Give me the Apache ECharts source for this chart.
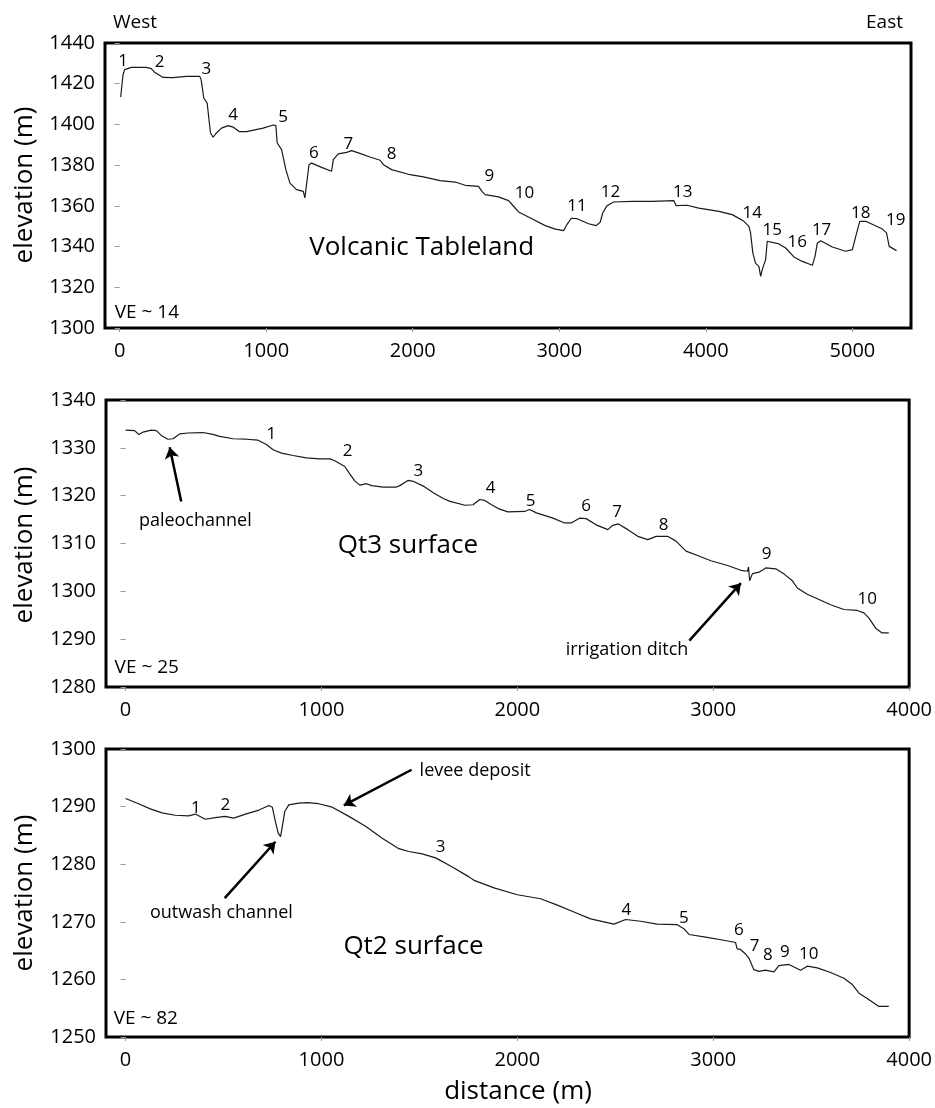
<!DOCTYPE html>
<html>
<head>
<meta charset="utf-8">
<script src="https://cdn.jsdelivr.net/npm/echarts@6/dist/echarts.min.js"></script>
<style>
  html, body { margin: 0; padding: 0; background: #fff; }
  #chart { width: 935px; height: 1108px; }
</style>
</head>
<body>
<div id="chart"></div>
<script>
// distance (m), elevation (m)
const volcanicProfile = [
  [7, 1413.5], [23, 1424.4], [34, 1426.9], [80, 1428], [182, 1428], [216, 1427.4], [239, 1425.6],
  [296, 1423.1], [364, 1423], [456, 1423.6], [547, 1423.6], [556, 1422], [574, 1413], [597, 1410.5],
  [620, 1395.8], [638, 1393.7], [660, 1395.8], [695, 1398.2], [740, 1399.4], [774, 1398.7],
  [815, 1396.5], [866, 1396.5], [979, 1398.2], [1048, 1399.7], [1066, 1399.4], [1075, 1390.9],
  [1105, 1387.6], [1134, 1377.8], [1162, 1371.2], [1207, 1368], [1253, 1367.1], [1264, 1363.9],
  [1271, 1363.5], [1292, 1380.2], [1310, 1381], [1378, 1378.9], [1446, 1377], [1458, 1382.7],
  [1492, 1385.5], [1549, 1386.3], [1583, 1387.1], [1629, 1386], [1708, 1384], [1777, 1382.4],
  [1800, 1380.2], [1856, 1377.8], [1982, 1375.3], [2073, 1374.2], [2187, 1372.4], [2289, 1371.7],
  [2358, 1370.1], [2449, 1369.6], [2472, 1367.1], [2494, 1365.5], [2585, 1364.4], [2654, 1362.6],
  [2688, 1359.8], [2722, 1357], [2813, 1353.7], [2904, 1350.3], [2973, 1348.6], [3030, 1347.8],
  [3052, 1350.8], [3082, 1353.9], [3121, 1353.7], [3200, 1351.2], [3252, 1350.3], [3280, 1352.1],
  [3296, 1356.5], [3326, 1360.1], [3371, 1361.9], [3497, 1362.2], [3633, 1362.2], [3781, 1362.6],
  [3797, 1360.1], [3872, 1360.3], [3952, 1358.9], [4089, 1357.3], [4180, 1355.7], [4260, 1352.4],
  [4294, 1349.9], [4305, 1346.7], [4321, 1336.8], [4339, 1331.9], [4362, 1330.3], [4374, 1325.4],
  [4385, 1328.7], [4408, 1333.6], [4419, 1342.6], [4431, 1343.4], [4499, 1341.3], [4545, 1339.3],
  [4601, 1334.9], [4658, 1332.7], [4727, 1330.8], [4745, 1335.2], [4761, 1341.8], [4784, 1342.9],
  [4863, 1339.8], [4954, 1337.7], [5000, 1338.5], [5023, 1345], [5050, 1352.4], [5091, 1352.4],
  [5205, 1348.6], [5233, 1346.7], [5251, 1340.1], [5301, 1338]
]
const qt3Profile = [
  [0, 1333.7], [46, 1333.6], [68, 1332.8], [89, 1333.3], [131, 1333.7], [157, 1333.6], [182, 1332.6],
  [216, 1331.8], [242, 1331.9], [276, 1332.9], [319, 1333.1], [395, 1333.2], [446, 1332.8],
  [480, 1332.4], [549, 1331.9], [617, 1331.8], [676, 1331.6], [719, 1330.7], [753, 1329.6],
  [796, 1328.9], [855, 1328.4], [923, 1327.9], [991, 1327.7], [1043, 1327.7], [1068, 1327.3],
  [1119, 1326.1], [1145, 1324.5], [1170, 1323.1], [1196, 1322.2], [1230, 1322.5], [1256, 1322.1],
  [1315, 1321.8], [1383, 1321.8], [1400, 1322.1], [1443, 1323.2], [1468, 1323], [1520, 1322],
  [1571, 1320.6], [1622, 1319.4], [1656, 1318.8], [1733, 1318], [1774, 1318.1], [1808, 1319.2],
  [1834, 1319], [1868, 1318.1], [1902, 1317.3], [1952, 1316.6], [2037, 1316.7], [2063, 1317.1],
  [2097, 1316.4], [2182, 1315.3], [2241, 1314.3], [2275, 1314.3], [2317, 1315.3], [2351, 1315.2],
  [2402, 1313.9], [2462, 1312.9], [2487, 1313.8], [2516, 1314.1], [2564, 1312.9], [2615, 1311.5],
  [2666, 1310.8], [2708, 1311.5], [2767, 1311.5], [2810, 1310.5], [2861, 1308.4], [2920, 1307.5],
  [2988, 1306.4], [3073, 1305.4], [3141, 1304.4], [3175, 1304.2], [3180, 1305.1], [3186, 1302.2],
  [3200, 1303.7], [3234, 1304], [3268, 1304.9], [3319, 1304.7], [3362, 1303.6], [3404, 1302.2],
  [3429, 1300.7], [3480, 1299.4], [3540, 1298.3], [3599, 1297.2], [3667, 1296.2], [3735, 1296],
  [3769, 1295.5], [3795, 1294.4], [3829, 1292.3], [3862, 1291.3], [3896, 1291.3]
]
const qt2Profile = [
  [0, 1291.4], [66, 1290.5], [126, 1289.6], [186, 1288.9], [254, 1288.5], [322, 1288.4],
  [356, 1288.7], [373, 1288.4], [407, 1287.8], [458, 1288.1], [508, 1288.3], [552, 1288],
  [612, 1288.7], [681, 1289.4], [732, 1290.2], [749, 1289.9], [765, 1287.4], [779, 1285.4],
  [791, 1284.8], [799, 1286.3], [813, 1289.2], [833, 1290.3], [884, 1290.6], [927, 1290.7],
  [986, 1290.5], [1055, 1289.9], [1140, 1288.3], [1225, 1286.6], [1310, 1284.5], [1395, 1282.7],
  [1446, 1282.2], [1514, 1281.8], [1583, 1281.1], [1668, 1279.5], [1753, 1277.8], [1779, 1277.2],
  [1881, 1275.9], [2000, 1274.7], [2119, 1274], [2204, 1272.9], [2289, 1271.7], [2374, 1270.5],
  [2442, 1270], [2493, 1269.6], [2553, 1270.4], [2629, 1270.1], [2714, 1269.6], [2816, 1269.5],
  [2850, 1268.8], [2876, 1267.8], [2969, 1267.3], [3054, 1266.8], [3114, 1266.4], [3122, 1265.3],
  [3139, 1265.2], [3165, 1264.4], [3182, 1263.7], [3207, 1261.7], [3233, 1261.4], [3267, 1261.6],
  [3310, 1261.3], [3335, 1262.4], [3386, 1262.6], [3446, 1261.6], [3480, 1262.3], [3531, 1262],
  [3599, 1261.2], [3667, 1260.2], [3710, 1259.1], [3744, 1257.6], [3786, 1256.7], [3846, 1255.3],
  [3896, 1255.3]
]

// numbered points along each profile
const volcanicMarks = [
  [23, 1431, '1'], [273, 1430.5, '2'], [592, 1427.2, '3'], [774, 1404.8, '4'], [1116, 1403.6, '5'],
  [1326, 1386, '6'], [1560, 1390.5, '7'], [1856, 1385.2, '8'], [2522, 1374.5, '9'], [2763, 1366, '10'],
  [3121, 1359.8, '11'], [3349, 1366.6, '12'], [3843, 1366.6, '13'], [4317, 1356.2, '14'],
  [4453, 1348, '15'], [4624, 1342.1, '16'], [4790, 1348, '17'], [5057, 1356.5, '18'], [5296, 1352.9, '19']
]
const qt3Marks = [
  [744, 1332.9, '1'], [1133, 1329.3, '2'], [1494, 1325.2, '3'], [1864, 1321.5, '4'], [2068, 1318.8, '5'],
  [2351, 1317.9, '6'], [2509, 1316.6, '7'], [2747, 1313.8, '8'], [3273, 1307.7, '9'], [3786, 1298.3, '10']
]
const qt2Marks = [
  [359, 1289.8, '1'], [509, 1290.3, '2'], [1608, 1282.9, '3'], [2556, 1272.1, '4'], [2850, 1270.7, '5'],
  [3131, 1268.6, '6'], [3211, 1265.7, '7'], [3279, 1264.2, '8'], [3366, 1264.7, '9'], [3488, 1264.4, '10']
]

// big surface names, VE notes, callouts
const surfaceNames = [
  [2061, 1339.3, 'Volcanic Tableland'], [1441, 1309.6, 'Qt3 surface'], [1470, 1265.7, 'Qt2 surface']
]
const veNotes = [[-34, 1307.4, 'VE ~ 14'], [-56, 1284, 'VE ~ 25'], [-61, 1253.2, 'VE ~ 82']]
const qt3Notes = [[356, 1314.8, 'paleochannel'], [2560, 1287.8, 'irrigation ditch']]
const qt2Notes = [[489, 1271.5, 'outwash channel']]
const qt2LeftNotes = [[1501, 1296.2, 'levee deposit']]
const qt3Arrows = [[[284, 1318.8], [225, 1330.1]], [[2878, 1289.7], [3141, 1301.7]]]
const qt2Arrows = [[[506, 1274.1], [765, 1283.9]], [[1460, 1296.4], [1114, 1290.2]]]

const xTicks1 = [0, 1000, 2000, 3000, 4000, 5000]
const xTicks23 = [0, 1000, 2000, 3000, 4000]

const FONT = 'Open Sans'
const INK = '#000'
const chart = echarts.init(document.getElementById('chart'))

const grids = [
  { left: 105, top: 43, width: 806, height: 285 },
  { left: 106, top: 400, width: 805, height: 287 },
  { left: 106, top: 749, width: 805, height: 288 }
].map((g) => ({ ...g, show: true, borderColor: '#000', borderWidth: 3, backgroundColor: '#fff' }))

const plain = (v) => String(v)

const xAxis = (idx, max, ticks) => ({
  type: 'value',
  gridIndex: idx,
  min: -100,
  max: max,
  axisLine: { show: false },
  splitLine: { show: false },
  axisTick: { show: true, customValues: ticks, length: 4, lineStyle: { color: '#999' } },
  axisLabel: { customValues: ticks, formatter: plain, margin: 13, fontSize: 20, color: INK, fontFamily: FONT }
})
const yAxis = (idx, min, max, interval) => ({
  type: 'value',
  gridIndex: idx,
  min: min,
  max: max,
  interval: interval,
  axisLine: { show: false },
  splitLine: { show: false },
  axisTick: { show: true, length: 5, lineStyle: { color: '#999' } },
  axisLabel: { formatter: plain, margin: 10, fontSize: 20, color: INK, fontFamily: FONT }
})

const profile = (idx, data) => ({
  type: 'line',
  xAxisIndex: idx,
  yAxisIndex: idx,
  data: data,
  showSymbol: false,
  lineStyle: { color: '#1a1a1a', width: 1.2 },
  z: 3
})
const textLayer = (idx, data, size, align) => ({
  type: 'scatter',
  xAxisIndex: idx,
  yAxisIndex: idx,
  data: data,
  symbolSize: 0,
  silent: true,
  itemStyle: { color: INK },
  label: {
    show: true,
    position: 'inside',
    align: align || 'center',
    verticalAlign: 'middle',
    formatter: (p) => p.data[2],
    fontSize: size,
    color: INK,
    textBorderWidth: 0,
    opacity: 1,
    fontFamily: FONT
  },
  z: 4
})
const arrows = (idx, list) => ({
  type: 'lines',
  coordinateSystem: 'cartesian2d',
  xAxisIndex: idx,
  yAxisIndex: idx,
  symbol: ['none', 'arrow'],
  symbolSize: 11,
  lineStyle: { color: '#000', width: 2.5, opacity: 1 },
  data: list.map((c) => ({ coords: c })),
  z: 5
})

const label = (opts) => ({ type: 'text', ...opts, style: { fontFamily: FONT, fill: INK, ...opts.style } })

chart.setOption({
  animation: false,
  grid: grids,
  xAxis: [xAxis(0, 5400, xTicks1), xAxis(1, 4000, xTicks23), xAxis(2, 4000, xTicks23)],
  yAxis: [yAxis(0, 1300, 1440, 20), yAxis(1, 1280, 1340, 10), yAxis(2, 1250, 1300, 10)],
  graphic: [
    label({ left: 113, top: 13, style: { text: 'West', fontSize: 19 } }),
    label({ right: 32, top: 13, style: { text: 'East', fontSize: 19 } }),
    label({ x: 25, y: 185, rotation: Math.PI / 2, style: { text: 'elevation (m)', fontSize: 26, align: 'center', verticalAlign: 'middle' } }),
    label({ x: 25, y: 545, rotation: Math.PI / 2, style: { text: 'elevation (m)', fontSize: 26, align: 'center', verticalAlign: 'middle' } }),
    label({ x: 25, y: 893, rotation: Math.PI / 2, style: { text: 'elevation (m)', fontSize: 26, align: 'center', verticalAlign: 'middle' } }),
    label({ x: 518, y: 1092, style: { text: 'distance (m)', fontSize: 26, align: 'center', verticalAlign: 'middle' } })
  ],
  series: [
    profile(0, volcanicProfile),
    profile(1, qt3Profile),
    profile(2, qt2Profile),
    textLayer(0, volcanicMarks, 17),
    textLayer(1, qt3Marks, 17),
    textLayer(2, qt2Marks, 17),
    textLayer(0, [surfaceNames[0]], 26),
    textLayer(1, [surfaceNames[1]], 26),
    textLayer(2, [surfaceNames[2]], 26),
    textLayer(0, [veNotes[0]], 19, 'left'),
    textLayer(1, [veNotes[1]], 19, 'left'),
    textLayer(2, [veNotes[2]], 19, 'left'),
    textLayer(1, qt3Notes, 18),
    textLayer(2, qt2Notes, 18),
    textLayer(2, qt2LeftNotes, 18, 'left'),
    arrows(1, qt3Arrows),
    arrows(2, qt2Arrows)
  ]
})
</script>
</body>
</html>
